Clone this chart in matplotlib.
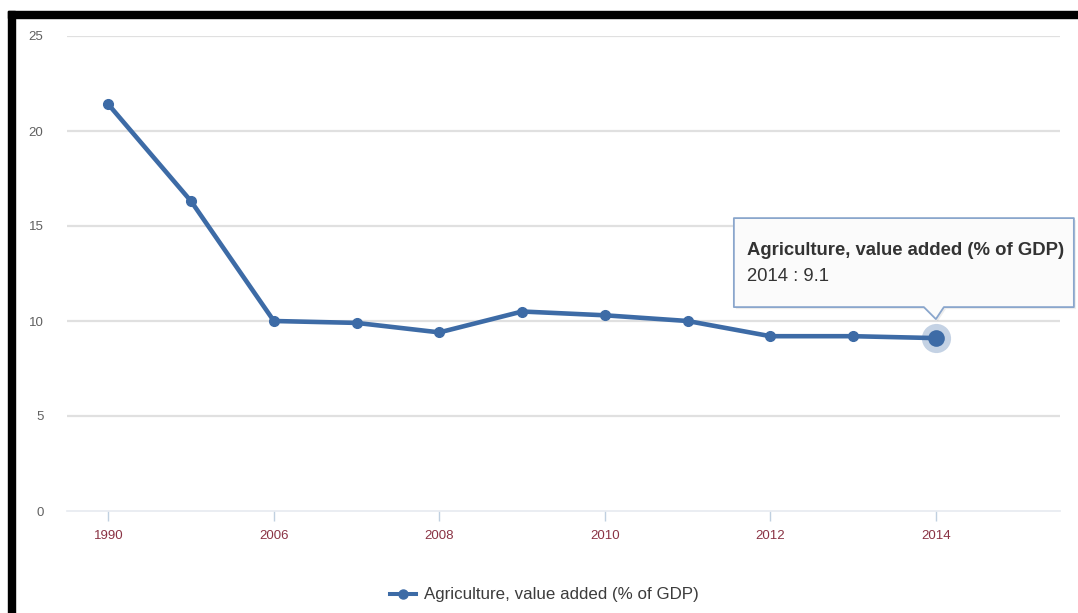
import matplotlib.pyplot as plt
import matplotlib.transforms as mtransforms
from matplotlib.patches import Rectangle, Polygon

# Agriculture, value added (% of GDP)
years = ["1990", "2000", "2006", "2007", "2008", "2009",
         "2010", "2011", "2012", "2013", "2014"]
values = [21.4, 16.3, 10.0, 9.9, 9.4, 10.5, 10.3, 10.0, 9.2, 9.2, 9.1]
shown_labels = ["1990", "2006", "2008", "2010", "2012", "2014"]
y_ticks = [0, 5, 10, 15, 20, 25]
series_name = "Agriculture, value added (% of GDP)"
hover_year = "2014"

line_color = "#3d6ba6"
plt.rcParams["font.family"] = ["Liberation Sans", "DejaVu Sans"]

W, H = 1078, 613
fig = plt.figure(figsize=(W / 100, H / 100), dpi=100)
ax = fig.add_axes([67 / W, (H - 511) / H, (1060 - 67) / W, (511 - 36) / H])

x = list(range(len(years)))
ax.plot(x, values, color=line_color, lw=3.3, marker="o", ms=7,
        solid_capstyle="round", solid_joinstyle="round", zorder=3)

ax.set_xlim(-0.5, len(years) + 0.5)
ax.set_ylim(0, 25)
ax.set_yticks(y_ticks)
ax.set_yticklabels([str(t) for t in y_ticks])
ax.tick_params(axis="y", length=0, pad=17, labelsize=9.5, labelcolor="#606060")

label_pos = [years.index(y) for y in shown_labels]
ax.set_xticks(label_pos)
ax.set_xticklabels(shown_labels)
ax.tick_params(axis="x", length=7, width=1, color="#c0d0e0", pad=7,
               labelsize=9.5, labelcolor="#8a3344")

for v in y_ticks[1:]:
    ax.axhline(v, color="#e0e0e0", lw=1.6, zorder=1)
for side in ["top", "right", "left"]:
    ax.spines[side].set_visible(False)
ax.spines["bottom"].set_color("#e6eaf0")
ax.spines["bottom"].set_linewidth(1.2)

# hovered point with halo
hi = years.index(hover_year)
hv = values[hi]
ax.plot(hi, hv, "o", ms=21, color=line_color, alpha=0.3, mec="none", zorder=4)
ax.plot(hi, hv, "o", ms=12, color=line_color, mec="none", zorder=5)

# tooltip callout, offsets in pixels from the hovered point
fig.canvas.draw()
px, py = ax.transData.transform((hi, hv))
shift = mtransforms.Affine2D().translate(px, py)
box = [(-202, 31), (-12, 31), (0, 19), (8, 31), (138, 31),
       (138, 120), (-202, 120)]
shadow = Polygon([(a + 2, b - 2) for a, b in box], closed=True,
                 transform=shift, facecolor="#000000", alpha=0.07,
                 edgecolor="none", zorder=6)
tip = Polygon(box, closed=True, transform=shift, facecolor="#fbfbfb",
              edgecolor="#8aa6cc", lw=1.3, zorder=7, joinstyle="round")
fig.add_artist(shadow)
fig.add_artist(tip)
fig.text((px - 189) / W, (py + 88) / H, series_name, fontsize=13.3,
         fontweight="bold", color="#333333", va="center", zorder=8)
fig.text((px - 189) / W, (py + 62) / H, f"{hover_year} : {hv}", fontsize=13.3,
         color="#333333", va="center", zorder=8)

# legend entry at bottom
lx, ly = 390, H - 594
fig.lines.append(plt.Line2D([lx / W, (lx + 26) / W], [ly / H, ly / H],
                            transform=fig.transFigure, color=line_color,
                            lw=2.9))
fig.lines.append(plt.Line2D([(lx + 13) / W], [ly / H], transform=fig.transFigure,
                            color=line_color, marker="o", ms=6.5))
fig.text((lx + 34) / W, ly / H, series_name, fontsize=12.2, color="#3c3c3c",
         va="center")

# black frame on top and left
fig.patches.append(Rectangle((8 / W, (H - 18) / H), (W - 8) / W, 7 / H,
                             transform=fig.transFigure, color="black"))
fig.patches.append(Rectangle((8 / W, 0), 7 / W, (H - 11) / H,
                             transform=fig.transFigure, color="black"))

fig.savefig("out.png", dpi=100)
